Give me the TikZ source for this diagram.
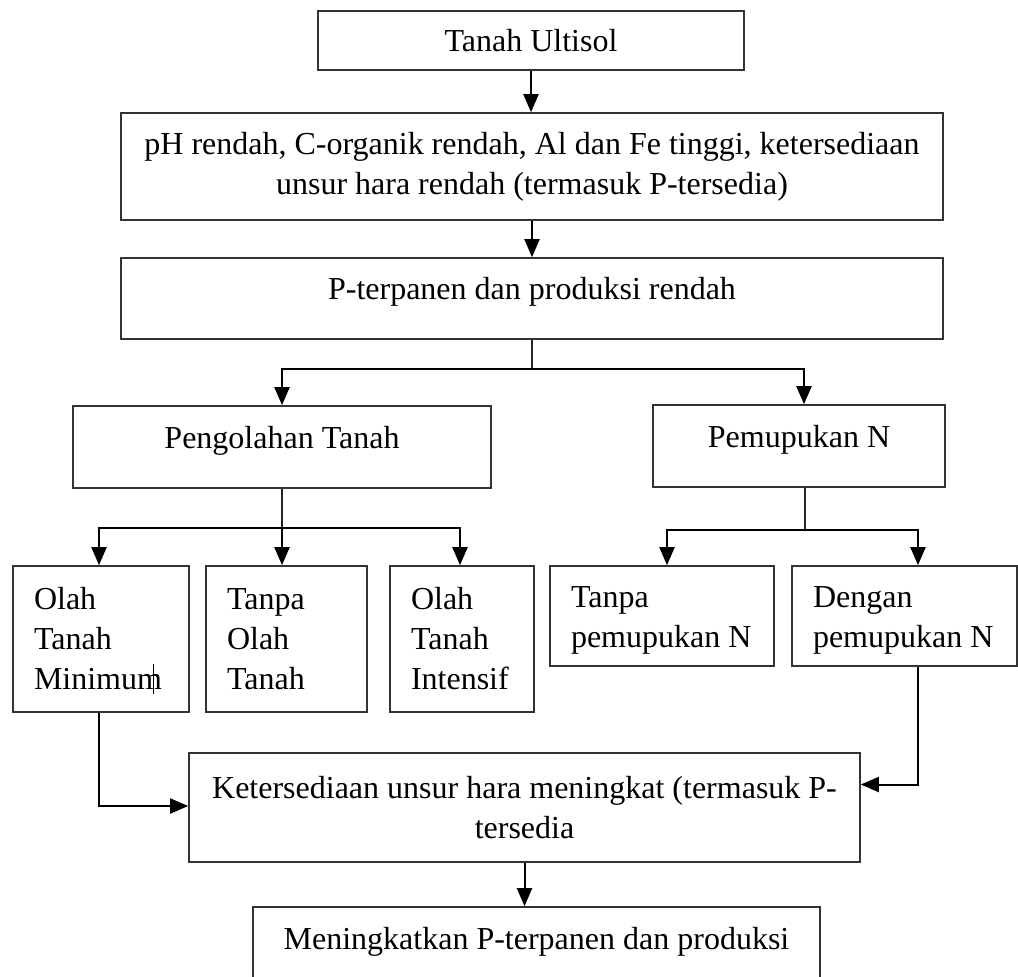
\documentclass[tikz,border=0pt]{standalone}
\usepackage{fontspec}
\setmainfont{Liberation Serif}
\usetikzlibrary{arrows.meta,calc}

\begin{document}
\begin{tikzpicture}
[x=0.5pt,y=-0.5pt,
box/.style={draw=black!80,line width=0.8pt,inner sep=0pt,align=center,
  font=\fontsize{16}{20}\selectfont},
toptext/.style={text height=11pt,text depth=10pt},
listbox/.style={box,align=flush left,inner xsep=10.5pt,text width=#1},
arr/.style={-{Triangle[length=9pt,width=7.5pt]},line width=1pt},
trunk/.style={-,line width=0.6pt,black!85}]
\useasboundingbox (0,0) rectangle (1018,976);
\clip (0,0) rectangle (1018,976);

\node (tanah) at (531,40.5) [box,minimum width=213pt,minimum height=29.5pt] {Tanah Ultisol};
\node (sifat) at (532,166.5) [box,minimum width=411pt,minimum height=53.5pt] {pH rendah, C-organik rendah, Al dan Fe tinggi, ketersediaan\\unsur hara rendah (termasuk P-tersedia)};
\node (hasil) at (532,298.5) [box,toptext,minimum width=411pt,minimum height=40.5pt] {P-terpanen dan produksi rendah};
\node (olah) at (282,447) [box,toptext,minimum width=209pt,minimum height=41pt] {Pengolahan Tanah};
\node (pupuk) at (799,446) [box,toptext,minimum width=146pt,minimum height=41pt] {Pemupukan N};
\node (otm) at (101,639) [listbox=67pt,minimum height=73pt] {Olah\\Tanah\\Minimum};
\node (tot) at (286.5,639) [listbox=59.5pt,minimum height=73pt] {Tanpa\\Olah\\Tanah};
\node (oti) at (462,639) [listbox=51pt,minimum height=73pt] {Olah\\Tanah\\Intensif};
\node (tpn) at (662,616) [listbox=91pt,text height=14.5pt,minimum height=50pt] {Tanpa\\pemupukan N};
\node (dpn) at (904.5,616) [listbox=91.5pt,text height=14.5pt,minimum height=50pt] {Dengan\\pemupukan N};
\node (sedia) at (524.5,807.5) [box,minimum width=335.5pt,minimum height=54.5pt] {Ketersediaan unsur hara meningkat (termasuk P-\\tersedia};
\node (naik) at (536.5,948.5) [box,toptext,minimum width=283.5pt,minimum height=41.5pt] {Meningkatkan P-terpanen dan produksi};

\draw[arr] (tanah.south) -- (tanah.south |- sifat.north);
\draw[arr] (sifat.south) -- (hasil.north);
\draw[trunk] (hasil.south) -- ++(0,29) coordinate (cab1);
\draw[arr] (cab1) -| (olah.north);
\draw[arr] (cab1) -| ($(pupuk.north)+(5,0)$);
\draw[trunk] (olah.south) -- ++(0,39) coordinate (cab2);
\draw[arr] (cab2) -| ($(otm.north)+(-2,0)$);
\draw[arr] (cab2) -- (cab2 |- tot.north);
\draw[arr] (cab2) -| ($(oti.north)+(-2,0)$);
\draw[trunk] ($(pupuk.south)+(6,0)$) -- ++(0,42) coordinate (cab3);
\draw[arr] (cab3) -| ($(tpn.north)+(5,0)$);
\draw[arr] (cab3) -| ($(dpn.north)+(13.5,0)$);
\draw[arr] ($(otm.south)+(-2,0)$) |- ($(sedia.west)+(0,-1.5)$);
\draw[arr] ($(dpn.south)+(13.5,0)$) |- ($(sedia.east)+(0,-23)$);
\draw[arr] (sedia.south) -- (sedia.south |- naik.north);
\draw[line width=0.4pt] (153,664) -- (153,694);

\end{tikzpicture}
\end{document}
